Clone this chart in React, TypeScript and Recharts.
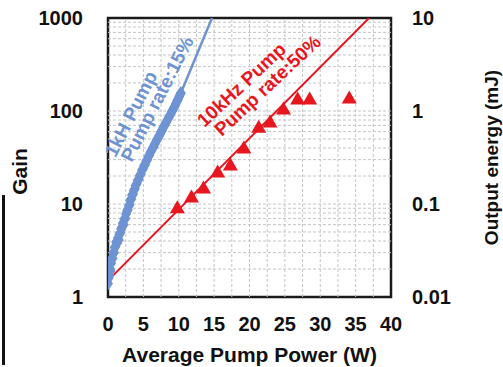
import { ComposedChart, Scatter, Line, XAxis, YAxis, ReferenceLine, ReferenceArea, ReferenceDot, Label } from 'recharts'

// 1 kHz pump, rate 15% (blue diamonds)
const blueW = [
  0.0, 0.1, 0.2, 0.3, 0.35, 0.45, 0.55, 0.65, 0.75, 0.85, 0.95, 1.05, 1.15, 1.3, 1.4, 1.5,
  1.6, 1.75, 1.85, 1.95, 2.1, 2.2, 2.3, 2.45, 2.55, 2.7, 2.8, 2.95, 3.05, 3.15, 3.3, 3.4,
  3.55, 3.65, 3.8, 3.9, 4.05, 4.2, 4.35, 4.5, 4.65, 4.8, 4.95, 5.1, 5.25, 5.4, 5.55, 5.7,
  5.85, 6.0, 6.15, 6.3, 6.45, 6.6, 6.75, 6.9, 7.05, 7.2, 7.35, 7.5, 7.65, 7.8, 7.95, 8.1,
  8.25, 8.4, 8.55, 8.7, 8.85, 9.0, 9.15, 9.3, 9.45, 9.6, 9.75, 9.9, 10.05, 10.2, 10.3,
]
const blueGain = [
  1.4, 1.6, 1.7, 2.0, 1.9, 2.3, 2.6, 2.6, 3.0, 3.0, 3.4, 3.5, 3.9, 3.8, 4.3, 4.1,
  4.7, 4.9, 5.4, 5.6, 6.2, 6.0, 6.9, 7.0, 7.8, 8.4, 8.7, 9.6, 9.8, 11.0, 11.3, 12.5,
  12.8, 14.0, 14.6, 15.8, 16.5, 18.0, 18.5, 20.3, 21.0, 23.0, 24.0, 26.0, 26.5, 29.0, 30.0, 32.5,
  33.5, 36.0, 37.5, 40.0, 41.0, 44.0, 46.0, 49.0, 51.0, 54.0, 56.0, 60.0, 62.0, 66.0, 69.0, 73.0,
  76.0, 80.0, 84.0, 88.0, 93.0, 98.0, 102, 108, 113, 120, 127, 134, 142, 150, 156,
]
const blueFitW = [0, 1.5, 3.2, 5.5, 8.4, 10.2, 14.7]
const blueFitGain = [1.45, 4.1, 11, 29.7, 80, 150, 1000]

// 10 kHz pump, rate 50% (red triangles)
const redW = [9.8, 11.8, 13.5, 15.5, 17.3, 19.2, 21.3, 22.9, 24.8, 26.8, 28.5, 34.1]
const redGain = [9.1, 11.9, 14.9, 22.1, 26.3, 40, 67, 76, 105, 135, 135, 138]
const redFitW = [0, 36.9]
const redFitGain = [1.5, 1000]

const xTicks = [0, 5, 10, 15, 20, 25, 30, 35, 40]
const gainTicks = [1, 10, 100, 1000]
const energyTicks = [0.01, 0.1, 1, 10]
const xGrid = [2.5, 5, 7.5, 10, 12.5, 15, 17.5, 20, 22.5, 25, 27.5, 30, 32.5, 35, 37.5]
const gainGrid = [2, 3, 4, 5, 6, 7, 8, 9, 10, 20, 30, 40, 50, 60, 70, 80, 90, 100, 200, 300, 400, 500, 600, 700, 800, 900]

const blueData = blueW.map((w, i) => ({ w, g: blueGain[i] }))
const redData = redW.map((w, i) => ({ w, g: redGain[i] }))
const blueFit = blueFitW.map((w, i) => ({ w, g: blueFitGain[i] }))
const redFit = redFitW.map((w, i) => ({ w, g: redFitGain[i] }))

const BLUE = '#6e93d2'
const RED = '#e8161e'
const FONT = '"Liberation Sans", Arial, sans-serif'
const tickStyle = { fill: '#111', fontSize: 20, fontWeight: 'bold', fontFamily: FONT }

const Diamond = (p: any) => (
  <polygon points={`${p.cx},${p.cy - 7} ${p.cx + 5},${p.cy} ${p.cx},${p.cy + 7} ${p.cx - 5},${p.cy}`} fill={BLUE} />
)
const Triangle = (p: any) => (
  <polygon points={`${p.cx},${p.cy - 7.5} ${p.cx + 7.5},${p.cy + 5.5} ${p.cx - 7.5},${p.cy + 5.5}`} fill={RED} />
)

function note(text: string, color: string, angle: number) {
  return (p: any) => (
    <text x={p.cx} y={p.cy} transform={`rotate(${angle} ${p.cx} ${p.cy})`} fill={color}
      fontSize={19} fontWeight="bold" fontFamily={FONT}>{text}</text>
  )
}

export default function App() {
  return (
    <div style={{ position: 'fixed', left: 0, top: 0, width: 503, height: 367, background: '#fff' }}>
      <div style={{ position: 'absolute', left: 2, top: 195, width: 3, height: 170, background: '#111' }} />
      <ComposedChart width={503} height={367} margin={{ top: 18, right: 12, bottom: 20, left: 8 }}>
        <XAxis dataKey="w" type="number" domain={[0, 40]} ticks={xTicks} allowDataOverflow
          axisLine={false} tickLine={false} tickSize={6} tickMargin={14} height={50} tick={tickStyle}>
          <Label content={(p: any) => (
            <text x={p.viewBox.x + p.viewBox.width / 2} y={p.viewBox.y + 65} textAnchor="middle"
              fill="#111" fontSize={21} fontWeight="bold" fontFamily={FONT}>Average Pump Power (W)</text>
          )} />
        </XAxis>
        <YAxis yAxisId="g" scale="log" domain={[1, 1000]} ticks={gainTicks} allowDataOverflow
          axisLine={false} tickLine={false} tickSize={6} tickMargin={19} width={100} tick={tickStyle}>
          <Label content={(p: any) => {
            const x = p.viewBox.x + 11
            const y = p.viewBox.y + p.viewBox.height / 2 + 14
            return (
              <text x={x} y={y} transform={`rotate(-90 ${x} ${y})`} textAnchor="middle" dominantBaseline="central"
                fill="#111" fontSize={21} fontWeight="bold" fontFamily={FONT}>Gain</text>
            )
          }} />
        </YAxis>
        <YAxis yAxisId="e" orientation="right" scale="log" domain={[0.01, 10]} ticks={energyTicks} allowDataOverflow
          axisLine={false} tickLine={false} tickSize={6} tickMargin={15} width={100} tick={tickStyle}>
          <Label content={(p: any) => {
            const x = p.viewBox.x + 100
            const y = p.viewBox.y + p.viewBox.height / 2
            return (
              <text x={x} y={y} transform={`rotate(-90 ${x} ${y})`} textAnchor="middle" dominantBaseline="central"
                fill="#111" fontSize={19} fontWeight="bold" fontFamily={FONT}>Output energy (mJ)</text>
            )
          }} />
        </YAxis>

        {xGrid.map((v) => (
          <ReferenceLine key={'x' + v} yAxisId="g" x={v} stroke="#c4c4c4" strokeDasharray="3 2" />
        ))}
        {gainGrid.map((v) => (
          <ReferenceLine key={'y' + v} yAxisId="g" y={v} stroke="#c4c4c4" strokeDasharray="3 2" />
        ))}
        <ReferenceArea yAxisId="g" x1={0} x2={40} y1={1} y2={1000} fill="none" stroke="#1a1a1a" strokeWidth={2.5} />

        <Line yAxisId="g" data={blueFit} dataKey="g" stroke={BLUE} strokeWidth={2.5} dot={false} isAnimationActive={false} />
        <Line yAxisId="g" data={redFit} dataKey="g" stroke={RED} strokeWidth={2} dot={false} isAnimationActive={false} />
        <Scatter yAxisId="g" data={blueData} dataKey="g" shape={Diamond} isAnimationActive={false} />
        <Scatter yAxisId="g" data={redData} dataKey="g" shape={Triangle} isAnimationActive={false} />

        <ReferenceDot yAxisId="g" x={1.07} y={31} r={0} ifOverflow="visible" shape={note('1kH Pump', BLUE, -63)} />
        <ReferenceDot yAxisId="g" x={3.36} y={27.6} r={0} ifOverflow="visible" shape={note('Pump rate:15%', BLUE, -63)} />
        <ReferenceDot yAxisId="g" x={13.64} y={65.7} r={0} ifOverflow="visible" shape={note('10kHz Pump', RED, -43)} />
        <ReferenceDot yAxisId="g" x={16.07} y={52.5} r={0} ifOverflow="visible" shape={note('Pump rate:50%', RED, -43)} />
      </ComposedChart>
    </div>
  )
}
